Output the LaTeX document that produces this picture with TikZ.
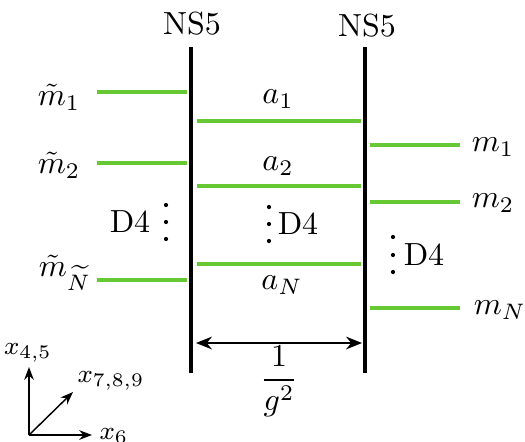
\documentclass[tikz,border=0pt]{standalone}
\usetikzlibrary{arrows.meta}
\definecolor{dgreen}{RGB}{102,200,51}
\begin{document}
\begin{tikzpicture}[x=0.3125pt,y=-0.3125pt,
  brane/.style={line width=1pt,black},
  dfour/.style={line width=0.95pt,dgreen},
  lbl/.style={inner sep=0pt},
  axlbl/.style={inner sep=0pt,font=\footnotesize},
  axis/.style={line width=0.45pt,-{Stealth[length=4pt,width=3pt]}}]
\useasboundingbox (0,0) rectangle (525,441);
% NS5 branes
\coordinate (L1) at (191,47); \coordinate (L2) at (191,373);
\coordinate (R1) at (365,47); \coordinate (R2) at (365,373);
\draw[brane] (L1) -- (L2);
\draw[brane] (R1) -- (R2);
\node[lbl] (ns1) at (192,24) {NS5};
\node[lbl] (ns2) at (367,26) {NS5};
% left D4s
\foreach \y/\n in {92/a,163/b,280/c}{
  \coordinate (la\n) at (97,\y); \coordinate (lb\n) at (187,\y);
  \draw[dfour] (la\n) -- (lb\n);}
% middle D4s
\foreach \y/\n in {121/a,186/b,264/c}{
  \coordinate (ma\n) at (197,\y); \coordinate (mb\n) at (361,\y);
  \draw[dfour] (ma\n) -- (mb\n);}
% right D4s
\foreach \y/\n in {145/a,202/b,308/c}{
  \coordinate (ra\n) at (370,\y); \coordinate (rb\n) at (460,\y);
  \draw[dfour] (ra\n) -- (rb\n);}
% labels
\node[lbl] (mt1) at (59,97) {$\tilde m_1$};
\node[lbl] (mt2) at (59,165) {$\tilde m_2$};
\node[lbl] (mtN) at (65,273) {$\tilde m_{\widetilde N}$};
\node[lbl] (a1) at (278,99) {$a_1$};
\node[lbl] (a2) at (278,166) {$a_2$};
\node[lbl] (aN) at (282,285) {$a_N$};
\node[lbl] (m1) at (493,147) {$m_1$};
\node[lbl] (m2) at (493,203) {$m_2$};
\node[lbl] (mN) at (500,310) {$m_N$};
% D4 dots
\node[lbl] (d4l) at (130,222) {D4};
\foreach \y in {205,222,239} \fill (166,\y) circle (2.1);
\node[lbl] (d4m) at (298,224) {D4};
\foreach \y in {207,224,241} \fill (269,\y) circle (2.1);
\node[lbl] (d4r) at (424,255) {D4};
\foreach \y in {237,255,272} \fill (393,\y) circle (2.1);
% coupling arrow
\coordinate (g1) at (196,343); \coordinate (g2) at (362,343);
\draw[line width=0.6pt,{Stealth[length=5pt,width=4pt]}-{Stealth[length=5pt,width=4pt]}] (g1) -- (g2);
\node[lbl] (frac) at (279,381) {$\displaystyle\frac{1}{g^2}$};
% axes
\coordinate (O) at (29,435);
\coordinate (X45) at (29,367);
\coordinate (X789) at (73,392);
\coordinate (X6) at (92,435);
\draw[axis] (O) -- (X45);
\draw[axis] (O) -- (X789);
\draw[axis] (O) -- (X6);
\node[axlbl] (t45) at (28,353) {$x_{4,5}$};
\node[axlbl] (t789) at (111,381) {$x_{7,8,9}$};
\node[axlbl] (t6) at (114,436) {$x_6$};
\end{tikzpicture}
\end{document}
